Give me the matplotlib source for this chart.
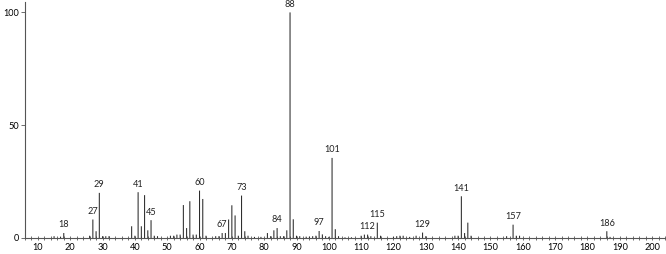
import numpy as np
import matplotlib.pyplot as plt
from matplotlib.ticker import MultipleLocator

plt.rcParams.update({
    "font.family": ["Lato", "DejaVu Sans"],
    "font.size": 6.5,
})

# m/z values and relative intensities (%)
mz = [15, 17, 18, 26, 27, 28, 29, 30, 31, 32,
      39, 40, 41, 42, 43, 44, 45, 46, 47,
      51, 52, 53, 54, 55, 56, 57, 58, 59, 60, 61, 62,
      65, 66, 67, 68, 69, 70, 71, 72, 73, 74, 75, 77, 79,
      81, 82, 83, 84, 85, 86, 87, 88, 89, 90, 91,
      93, 94, 95, 96, 97, 98, 99, 100, 101, 102, 103, 105, 107,
      110, 111, 112, 113, 115, 116,
      120, 121, 122, 123, 125, 127, 129, 130,
      139, 140, 141, 142, 143, 144, 155, 157, 158, 159, 186, 187]
intensity = [0.8, 0.6, 2.2, 1.0, 8.2, 3.0, 20.0, 0.8, 0.8, 0.8,
             5.2, 1.0, 20.3, 5.2, 19.0, 3.4, 7.9, 1.0, 0.8,
             1.0, 1.0, 1.5, 1.5, 14.6, 4.4, 16.3, 1.5, 1.5, 21.0, 17.3, 1.0,
             0.8, 0.8, 2.2, 2.2, 8.2, 14.5, 10.0, 1.0, 18.8, 3.0, 1.0, 0.5, 0.5,
             2.2, 0.8, 3.4, 4.4, 0.8, 0.8, 3.4, 100.0, 8.3, 1.0, 0.8,
             0.6, 0.6, 0.8, 1.0, 3.1, 1.6, 0.8, 0.5, 35.5, 3.9, 0.8, 0.3, 0.3,
             1.0, 1.5, 1.5, 0.8, 6.8, 1.0,
             0.5, 0.8, 1.0, 1.0, 0.5, 1.0, 2.4, 0.8,
             1.0, 1.0, 18.5, 2.2, 6.8, 1.0, 0.8, 5.9, 1.0, 1.0, 3.0, 0.5]

labeled = [18, 27, 29, 41, 45, 60, 67, 73, 84, 88, 97, 101, 112, 115, 129, 141, 157, 186]

fig = plt.figure(figsize=(6.66, 2.54), dpi=100)
ax = fig.add_axes([0.0375, 0.063, 0.961, 0.929])

ax.vlines(mz, 0, intensity, colors="#2a2a2a", linewidth=0.75, snap=False)

lookup = dict(zip(mz, intensity))
for m in labeled:
    ax.text(m, lookup[m] + 1.6, str(m), ha="center", va="bottom",
            fontsize=6.6, color="#222222")

ax.set_xlim(6, 204)
ax.set_ylim(0, 104.6)
ax.xaxis.set_major_locator(MultipleLocator(10))
ax.xaxis.set_minor_locator(MultipleLocator(2))
ax.set_xticks(np.arange(10, 201, 10))
ax.set_yticks([0, 50, 100])

for s in ["top", "right"]:
    ax.spines[s].set_visible(False)
for s in ["left", "bottom"]:
    ax.spines[s].set_color("#555555")
    ax.spines[s].set_linewidth(0.8)

ax.tick_params(axis="x", which="both", direction="inout", length=3,
               width=0.6, color="#555555", labelsize=6.6, pad=2)
ax.tick_params(axis="y", which="major", direction="out", length=3,
               width=0.6, color="#555555", labelsize=6.6, pad=1)

fig.savefig("out.png", dpi=100)
